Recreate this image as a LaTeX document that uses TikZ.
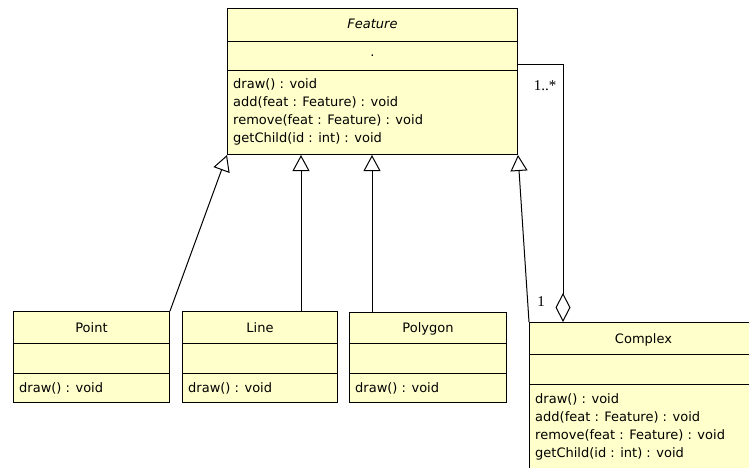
\documentclass[tikz,border=0pt]{standalone}
\usepackage{fontspec}
\setmainfont{DejaVu Sans}
\newfontfamily\multfont{Liberation Serif}
\usetikzlibrary{arrows.meta,calc}
\definecolor{umlfill}{RGB}{255,255,204}
\begin{document}
\begin{tikzpicture}[x=1pt,y=-1pt,
  cls/.style={draw, line width=1pt, fill=umlfill, rectangle, inner sep=0pt, anchor=north west},
  sepline/.style={line width=1pt},
  op/.style={font=\fontsize{13}{18}\selectfont, inner sep=0pt, anchor=base west},
  title/.style={font=\fontsize{13}{18}\selectfont, inner sep=0pt, anchor=base},
  mult/.style={font=\multfont\fontsize{15}{17}\selectfont, inner sep=0pt},
  conn/.style={line width=1pt},
  inherit/.style={conn, -{Triangle[open, length=16pt, width=17pt, line width=1pt]}},
  aggr/.style={conn, -{Diamond[open, length=29pt, width=15pt, line width=1pt]}}
]
\fill[white] (0,0) rectangle (749,467);
\useasboundingbox (0,0) rectangle (749,467);

% ---- Feature (abstract) ----
\node[cls, minimum width=290pt, minimum height=146pt] (feature) at (227,8) {};
\draw[sepline] ($(feature.north west)+(0,33)$) -- ($(feature.north east)+(0,33)$);
\draw[sepline] ($(feature.north west)+(0,62)$) -- ($(feature.north east)+(0,62)$);
\node[title, font=\itshape\fontsize{13}{18}\selectfont] (featureName) at ($(feature.north)+(0,20)$) {Feature};
\node[title] (featureAttr) at ($(feature.north)+(0,48)$) {.};
\node[op] (f1) at ($(feature.north west)+(6,80)$) {draw() : void};
\node[op] (f2) at ($(feature.north west)+(6,98)$) {add(feat : Feature) : void};
\node[op] (f3) at ($(feature.north west)+(6,116)$) {remove(feat : Feature) : void};
\node[op] (f4) at ($(feature.north west)+(6,134)$) {getChild(id : int) : void};

% ---- Point ----
\node[cls, minimum width=156pt, minimum height=91pt] (point) at (13,311) {};
\draw[sepline] ($(point.north west)+(0,32)$) -- ($(point.north east)+(0,32)$);
\draw[sepline] ($(point.north west)+(0,62)$) -- ($(point.north east)+(0,62)$);
\node[title] (pointName) at ($(point.north)+(0,21)$) {Point};
\node[op] (p1) at ($(point.north west)+(6,81)$) {draw() : void};

% ---- Line ----
\node[cls, minimum width=155pt, minimum height=91pt] (line) at (182,311) {};
\draw[sepline] ($(line.north west)+(0,32)$) -- ($(line.north east)+(0,32)$);
\draw[sepline] ($(line.north west)+(0,62)$) -- ($(line.north east)+(0,62)$);
\node[title] (lineName) at ($(line.north)+(0,21)$) {Line};
\node[op] (l1) at ($(line.north west)+(6,81)$) {draw() : void};

% ---- Polygon ----
\node[cls, minimum width=157pt, minimum height=90pt] (polygon) at (349,312) {};
\draw[sepline] ($(polygon.north west)+(0,31)$) -- ($(polygon.north east)+(0,31)$);
\draw[sepline] ($(polygon.north west)+(0,61)$) -- ($(polygon.north east)+(0,61)$);
\node[title] (polygonName) at ($(polygon.north)+(0,20)$) {Polygon};
\node[op] (g1) at ($(polygon.north west)+(6,80)$) {draw() : void};

% ---- Complex (runs past the page edge) ----
\node[cls, minimum width=228pt, minimum height=160pt] (complex) at (529,322) {};
\draw[sepline] ($(complex.north west)+(0,32)$) -- ($(complex.north east)+(0,32)$);
\draw[sepline] ($(complex.north west)+(0,62)$) -- ($(complex.north east)+(0,62)$);
\node[title] (complexName) at ($(complex.north)+(0,21)$) {Complex};
\node[op] (c1) at ($(complex.north west)+(6,81)$) {draw() : void};
\node[op] (c2) at ($(complex.north west)+(6,99)$) {add(feat : Feature) : void};
\node[op] (c3) at ($(complex.north west)+(6,117)$) {remove(feat : Feature) : void};
\node[op] (c4) at ($(complex.north west)+(6,135)$) {getChild(id : int) : void};

% ---- generalizations ----
\draw[inherit] (point.north east) -- (feature.south west);
\coordinate (lineTop) at ($(line.north west)+(119,0)$);
\draw[inherit] (lineTop) -- (lineTop |- feature.south);
\coordinate (polygonTop) at ($(polygon.north west)+(23,0)$);
\draw[inherit] (polygonTop) -- (polygonTop |- feature.south);
\draw[inherit] (complex.north west) -- (feature.south east);

% ---- aggregation with multiplicities ----
\coordinate (aggStart) at ($(feature.north east)+(0,56)$);
\coordinate (aggEnd) at ($(complex.north west)+(34,0)$);
\draw[aggr] (aggStart) -| (aggEnd);
\node[mult] (manyEnd) at (545,86) {1..*};
\node[mult] (oneEnd) at (541,302) {1};
\end{tikzpicture}
\end{document}
